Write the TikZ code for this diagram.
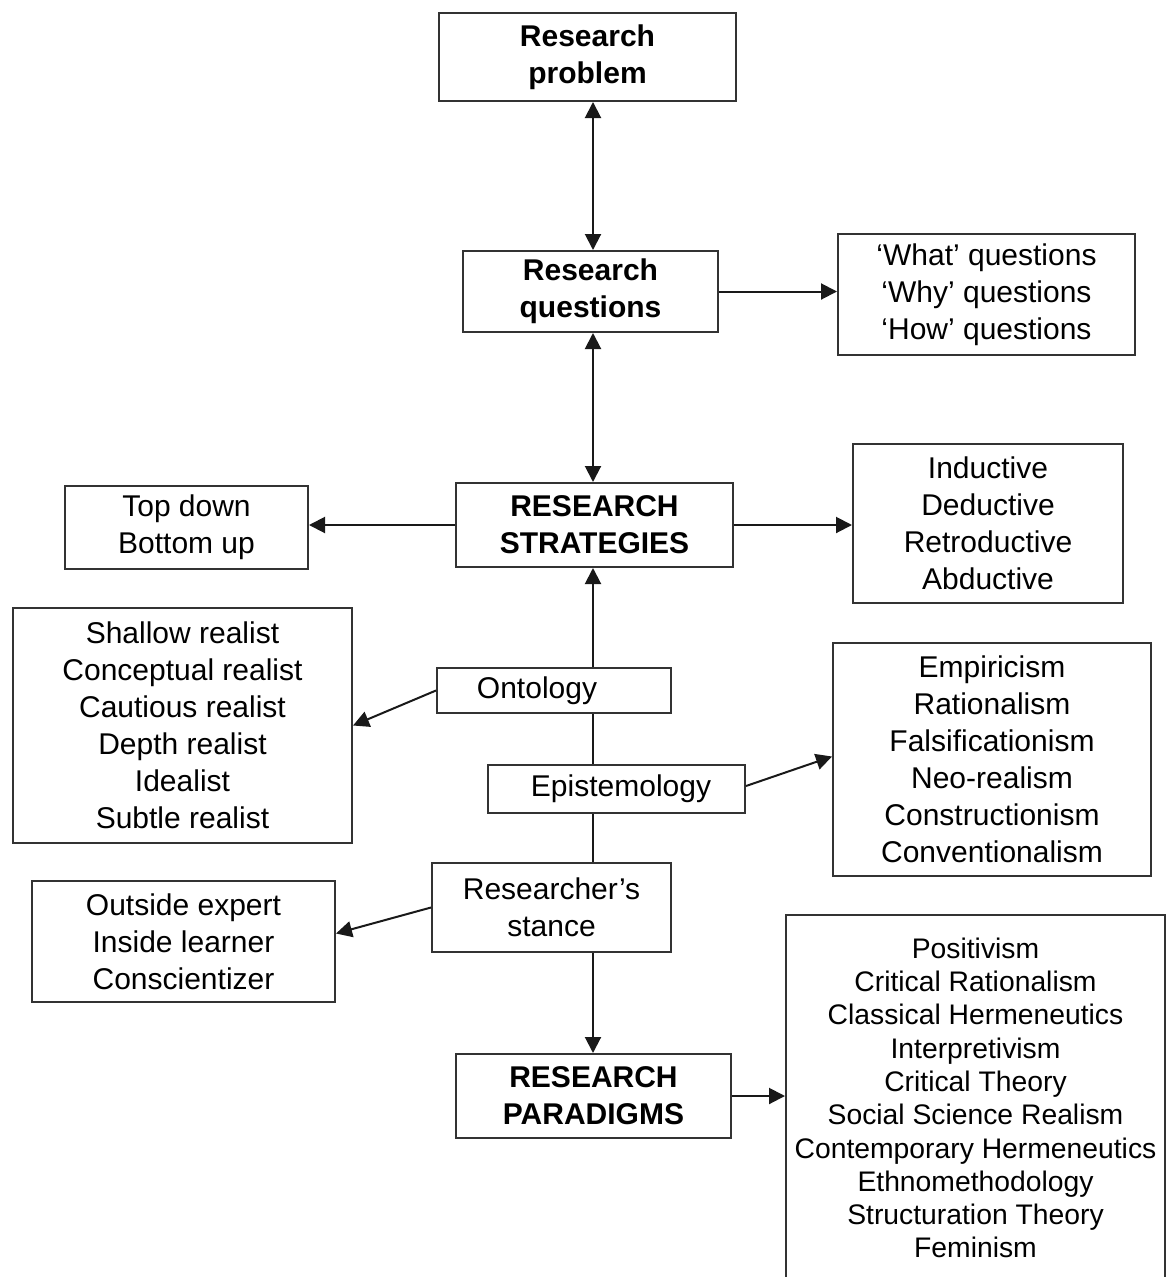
\documentclass[tikz,border=0pt]{standalone}
\usepackage{fontspec}
\setmainfont{Liberation Sans}
\usetikzlibrary{arrows.meta}

\tikzset{
    box/.style={draw=black!80, line width=2pt, fill=white, align=center, inner sep=0pt,
        font=\fontsize{30}{37}\selectfont},
    headbox/.style={box, font=\fontsize{30}{37}\selectfont\bfseries},
    listbox/.style={box, font=\fontsize{28.3}{33.3}\selectfont},
    link/.style={line width=2pt, draw=black!90, -{Triangle[length=16pt,width=16pt]}},
    dlink/.style={link, {Triangle[length=16pt,width=16pt]}-{Triangle[length=16pt,width=16pt]}},
}

\begin{document}
\begin{tikzpicture}[x=1pt,y=-1pt]
            \useasboundingbox (0,0) rectangle (1168,1277);
            \coordinate (axis) at (593,0);
            
            \node[headbox, minimum width=297pt, minimum height=88pt] (prob) at (587.5,57) {Research\\problem};
            \node[headbox, minimum width=255pt, minimum height=81pt] (quest) at (590.5,291.5) {Research\\questions};
            \node[box, minimum width=297pt, minimum height=121pt] (qtypes) at (986.5,294.5) {‘What’ questions\\‘Why’ questions\\‘How’ questions};
            \node[headbox, minimum width=277pt, minimum height=84pt] (strat) at (594.5,525) {RESEARCH\\STRATEGIES};
            \node[box, minimum width=243pt, minimum height=83pt] (topdown) at (186.5,527.5) {Top down\\Bottom up};
            \node[box, minimum width=270pt, minimum height=159pt] (logic) at (988,523.5) {Inductive\\Deductive\\Retroductive\\Abductive};
            \node[box, minimum width=239pt, minimum height=89pt] (stance) at (551.5,907.5) {Researcher’s\\stance};
            \node[box, minimum width=303pt, minimum height=121pt] (slist) at (183.5,941.5) {Outside expert\\Inside learner\\Conscientizer};
            \node[headbox, minimum width=275pt, minimum height=84pt] (parad) at (593.5,1096) {RESEARCH\\PARADIGMS};
            \node[listbox, minimum width=379pt, minimum height=366pt] (plist) at (975.5,1098) {Positivism\\Critical Rationalism\\Classical Hermeneutics\\Interpretivism\\Critical Theory\\Social Science Realism\\Contemporary Hermeneutics\\Ethnomethodology\\Structuration Theory\\Feminism};
            
            \draw[link] (stance.north -| axis) -- (strat.south -| axis);
            
            \node[box, minimum width=234pt, minimum height=45pt] (onto) at (554,690.5) {Ontology\hspace*{34pt}};
            \node[box, minimum width=339pt, minimum height=235pt] (olist) at (182.5,725.5) {Shallow realist\\Conceptual realist\\Cautious realist\\Depth realist\\Idealist\\Subtle realist};
            \node[box, minimum width=257pt, minimum height=48pt] (epist) at (616.5,789) {\hspace*{9pt}Epistemology};
            \node[box, minimum width=318pt, minimum height=233pt] (elist) at (992,759.5) {Empiricism\\Rationalism\\Falsificationism\\Neo-realism\\Constructionism\\Conventionalism};
            
            \draw[dlink] (prob.south -| axis) -- (quest.north -| axis);
            \draw[dlink] (quest.south -| axis) -- (strat.north -| axis);
            \draw[link] (quest.east) -- (quest.east -| qtypes.west);
            \draw[link] (strat.west) -- (strat.west -| topdown.east);
            \draw[link] (strat.east) -- (strat.east -| logic.west);
            \draw[link] (onto.west) -- (olist.east);
            \draw[link] ([yshift=3pt]epist.east) -- ([yshift=3pt]elist.west);
            \draw[link] (stance.west) -- ([yshift=8pt]slist.east);
            \draw[link] (stance.south -| axis) -- (parad.north -| axis);
            \draw[link] (parad.east) -- (parad.east -| plist.west);
            
\end{tikzpicture}
\end{document}
